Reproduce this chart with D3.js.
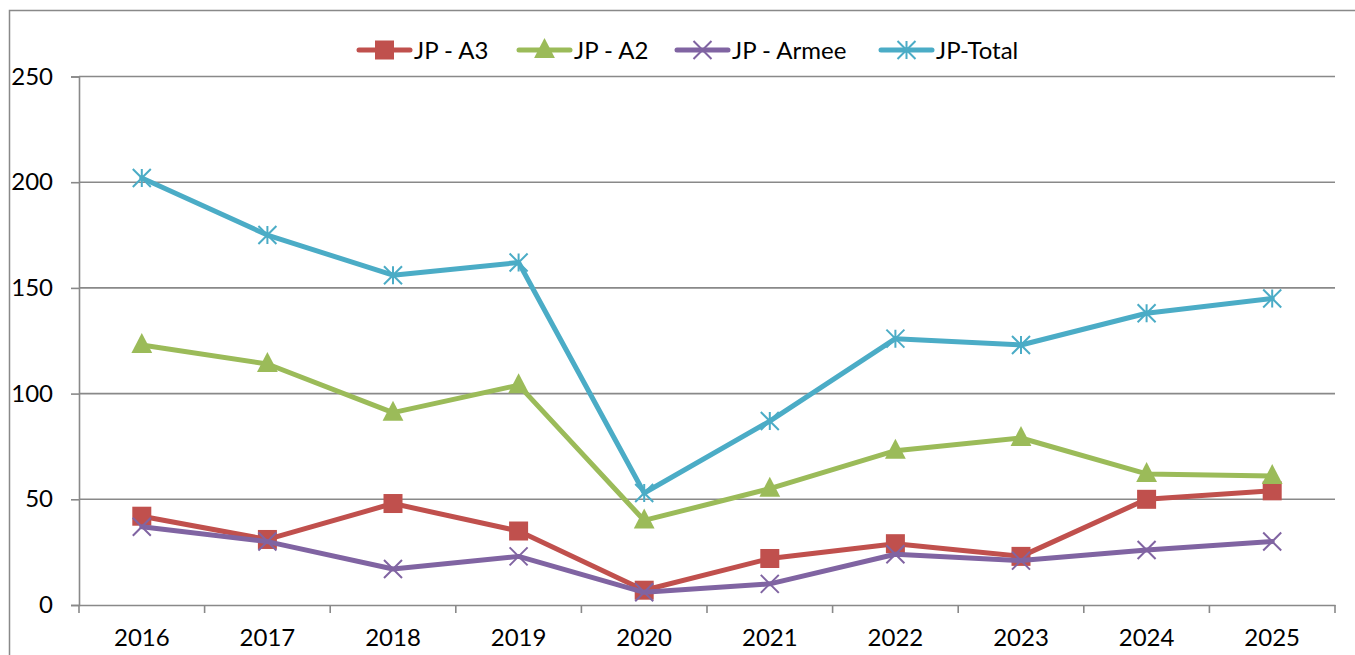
<!DOCTYPE html>
<html>
<head>
<meta charset="utf-8">
<script src="https://cdn.jsdelivr.net/npm/d3@7"></script>
<style>
  html, body { margin: 0; padding: 0; background: #fff; }
  svg { display: block; }
  text { font-family: Lato, "Open Sans", sans-serif; fill: #000; }
</style>
</head>
<body>
<svg id="chart" width="1355" height="655"></svg>
<script>
const years = ["2016","2017","2018","2019","2020","2021","2022","2023","2024","2025"];
const seriesNames = ["JP - A3", "JP - A2", "JP - Armee", "JP-Total"];
const a3Values    = [42, 31, 48, 35, 7, 22, 29, 23, 50, 54];
const a2Values    = [123, 114, 91, 104, 40, 55, 73, 79, 62, 61];
const armeeValues = [37, 30, 17, 23, 6, 10, 24, 21, 26, 30];
const totalValues = [202, 175, 156, 162, 53, 87, 126, 123, 138, 145];
const yTicks = [0, 50, 100, 150, 200, 250];
const colors = ["#C0504D", "#9BBB59", "#8064A2", "#4BACC6"];
const markers = ["square", "triangle", "x", "asterisk"];

const seriesData = [a3Values, a2Values, armeeValues, totalValues].map((v, i) => ({
  name: seriesNames[i], values: v, color: colors[i], marker: markers[i]
}));

const svg = d3.select("#chart");
const mLeft = 79, mRight = 1335, mTop = 76.5, mBottom = 605;
const gridColor = "#898989";
const fontSize = "24px";

// outer chart border (extends past the window)
svg.append("rect").attr("x", 9.5).attr("y", 10.5).attr("width", 1400).attr("height", 700)
  .attr("fill", "none").attr("stroke", gridColor).attr("stroke-width", 1.5);

const x = d3.scaleBand().domain(years).range([mLeft, mRight]).padding(0);
const y = d3.scaleLinear().domain([0, 250]).range([mBottom, mTop]);

// gridlines
svg.append("g").selectAll("line").data(yTicks.filter(t => t > 0)).join("line")
  .attr("x1", mLeft).attr("x2", mRight)
  .attr("y1", d => y(d)).attr("y2", d => y(d))
  .attr("stroke", gridColor).attr("stroke-width", 1.6);

// y axis
const yAxis = svg.append("g").attr("transform", `translate(${mLeft},0)`)
  .call(d3.axisLeft(y).tickValues(yTicks).tickSize(8).tickPadding(18).tickFormat(d3.format("d")));
yAxis.select(".domain").attr("stroke", gridColor).attr("stroke-width", 1.6);
yAxis.selectAll(".tick line").attr("stroke", gridColor).attr("stroke-width", 1.6);
yAxis.selectAll("text").style("font-size", fontSize).style("font-family", "Lato, sans-serif").attr("fill", "#000");

// x axis
const xAxis = svg.append("g").attr("transform", `translate(0,${mBottom})`)
  .call(d3.axisBottom(x).tickSize(0).tickPadding(24));
xAxis.select(".domain").attr("stroke", gridColor).attr("stroke-width", 1.6);
xAxis.selectAll("text").style("font-size", fontSize).style("font-family", "Lato, sans-serif").attr("fill", "#000");
// band boundary ticks
const bounds = years.map(d => x(d)).concat([x(years[years.length - 1]) + x.bandwidth()]);
svg.append("g").selectAll("line").data(bounds).join("line")
  .attr("x1", d => d).attr("x2", d => d).attr("y1", mBottom).attr("y2", mBottom + 8)
  .attr("stroke", gridColor).attr("stroke-width", 1.6);

function drawMarker(g, type, color, size) {
  const s = size;
  if (type === "square") {
    g.append("rect").attr("x", -s/2).attr("y", -s/2).attr("width", s).attr("height", s)
      .attr("fill", color);
  } else if (type === "triangle") {
    g.append("path").attr("d", `M0,${-s*0.6} L${s*0.52},${s*0.4} L${-s*0.52},${s*0.4} Z`).attr("fill", color);
  } else if (type === "x") {
    const r = s/2;
    g.append("path").attr("d", `M${-r},${-r} L${r},${r} M${-r},${r} L${r},${-r}`)
      .attr("stroke", color).attr("stroke-width", 2).attr("fill", "none");
  } else if (type === "asterisk") {
    const r = s/2;
    g.append("path").attr("d", `M${-r},${-r} L${r},${r} M${-r},${r} L${r},${-r} M0,${-r} L0,${r}`)
      .attr("stroke", color).attr("stroke-width", 2).attr("fill", "none");
  }
}
const markerSize = { square: 19, triangle: 20, x: 18, asterisk: 18 };

const line = d3.line().x((d, i) => x(years[i]) + x.bandwidth() / 2).y(d => y(d));

seriesData.forEach(s => {
  svg.append("path").datum(s.values).attr("d", line)
    .attr("fill", "none").attr("stroke", s.color).attr("stroke-width", 5)
    .attr("stroke-linejoin", "round").attr("stroke-linecap", "round");
  s.values.forEach((v, i) => {
    const g = svg.append("g").attr("transform", `translate(${x(years[i]) + x.bandwidth()/2},${y(v)})`);
    drawMarker(g, s.marker, s.color, markerSize[s.marker]);
  });
});

// legend
const legendX = [357, 517, 675, 879];
const legendY = 50;
seriesData.forEach((s, i) => {
  const g = svg.append("g").attr("transform", `translate(${legendX[i]},${legendY})`);
  g.append("line").attr("x1", 2).attr("x2", 53).attr("y1", 0).attr("y2", 0)
    .attr("stroke", s.color).attr("stroke-width", 5).attr("stroke-linecap", "round");
  const mg = g.append("g").attr("transform", "translate(27.5,0)");
  drawMarker(mg, s.marker, s.color, markerSize[s.marker]);
  g.append("text").attr("x", 57).attr("y", 0).attr("dy", "0.36em")
    .style("font-size", fontSize).text(s.name);
});
</script>
</body>
</html>
